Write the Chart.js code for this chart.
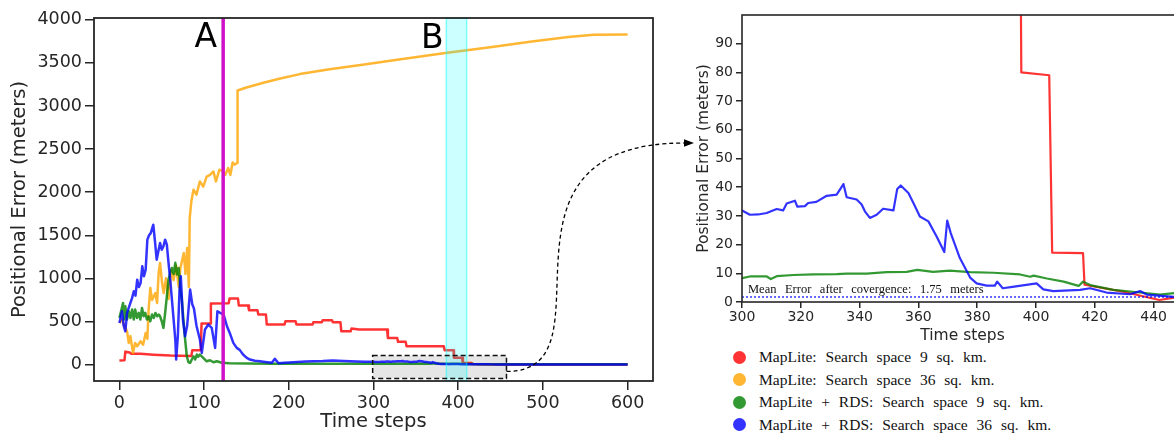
<!DOCTYPE html>
<html>
<head>
<meta charset="utf-8">
<script src="https://cdn.jsdelivr.net/npm/chart.js@4"></script>
<style>
  body { margin: 0; width: 1174px; height: 434px; overflow: hidden; background: #fff; position: relative; }
  canvas { position: absolute; top: 0; }
  #main { left: 0; }
  #zoom { left: 680px; }
  #legend { position: absolute; left: 733px; top: 346px; font: 15.5px "Liberation Serif", serif; color: #111; word-spacing: 5px; }
  .row { height: 22.5px; display: flex; align-items: center; white-space: nowrap; }
  .dot { width: 13px; height: 13px; border-radius: 50%; margin-right: 13px; flex: none; }
</style>
</head>
<body>
<canvas id="main" width="700" height="434"></canvas>
<canvas id="zoom" width="515" height="345"></canvas>
<div id="legend"></div>
<script>
const seriesNames = [
  "MapLite: Search space 9 sq. km.",
  "MapLite: Search space 36 sq. km.",
  "MapLite + RDS: Search space 9 sq. km.",
  "MapLite + RDS: Search space 36 sq. km."
];
const seriesColors = ["rgba(255,0,0,0.8)", "rgba(255,165,0,0.8)", "rgba(0,128,0,0.8)", "rgba(0,0,255,0.8)"];

// MapLite, 9 sq. km.
const redSteps = [0,6,7,12,14,25,40,60,85,86,96,97,107,108,129,130,140,141,152,153,163,164,173,174,195,196,208,209,228,229,239,240,251,252,261,262,273,274,283,316,317,328,329,338,339,383,384,394.5,395,404.5,405.5,416,416.5,430,442,447,460,600];
const redError = [46,50,150,140,125,125,115,105,100,165,165,475,475,707,710,765,765,684,684,630,630,580,580,464,464,502,502,464,464,491,491,514,514,490,490,386,386,417,406,406,309,309,263,263,212,212,166,166,80,79,17.2,17,6,3.5,0.7,1.5,1,1];

// MapLite, 36 sq. km.
const orangeSteps = [0,3,6,9,11,13,16,18.5,21,25,28,31,33,34.5,36.5,38.5,42.5,44.5,46.3,48,50.4,52.3,55,58,61,64,67,70,72,76,78,80,82,83,85,87.5,91,95,99,103,107,111,114,118,121,125,128.5,131,133.7,136,139,139.5,150,170,190,213,250,287,330,385,440,487,530,560,600];
const orangeError = [483,520,450,386,251,330,135,250,212,270,230,367,300,638,889,750,830,715,1063,1179,946,830,1000,760,1100,980,1150,900,1121,1295,1050,1353,900,1700,1900,2029,1971,2125,2064,2180,2200,2240,2125,2260,2250,2203,2280,2200,2345,2320,2338,3180,3215,3270,3320,3370,3430,3478,3540,3614,3685,3748,3800,3826,3830];

// MapLite + RDS, 9 sq. km.
const greenSteps = [0,2,4.3,5.5,7,9,11,13,15,17,18.6,20.8,22.8,24.7,26.7,28.6,30.5,32.5,34.5,36.5,38.5,40.5,42.5,44.5,46.5,48,50,52,54,56,58,60,62,64,66,68,70,72,73.7,75.6,77.6,79.6,81.5,83.5,85.5,87.5,89.4,91.4,93,95,99,103,107,111,115,121,130,150,180,220,260,290,
  300,302.7,308.4,309.8,311.8,317.5,324.3,332.2,335.6,342.4,349.2,356,359.6,365,370.7,377.6,385.5,394.6,398,399.2,403.7,409.4,414.5,416,418.4,426.3,435.4,442.2,447,470,600];
const greenError = [541,620,715,522,676,522,618,541,638,522,638,541,600,522,657,560,600,522,560,502,580,540,599,560,580,560,502,425,599,792,985,1063,1121,1050,1180,1044,1121,870,754,522,290,96,27,20,58,96,58,116,90,116,77,38,50,27,38,20,15,12,10,9,8.5,8.3,
  8.3,8.9,8.9,8.0,9,9.4,9.6,9.7,9.9,9.9,10.4,10.5,11.2,10.5,10.9,10.4,10.2,9.6,8.8,9.2,8.2,7.1,5.6,7.1,5.9,4.2,3.3,2.6,3.1,3,3];

// MapLite + RDS, 36 sq. km.
const blueSteps = [0,3,5,7,9,11,13,15,17,19,21,23,25,27,29,31,33,35,37,40,42,44,46,48,50,52,54,56,58,60,62,64,66,67,69,71,72.5,75,77.5,80,83.5,86,88,91,95,97.3,101,105,109,113,115.7,119,123,127,131,134.5,138.5,142,146,150,154,160,166,172,180,183.5,188,195,201,210,220,229,240,252,265,280,290,
  300,302.7,305.5,308.4,311.8,314,315.2,318,318.8,321.4,322.5,325.3,328.8,332.2,334.5,335.6,339,340.7,341.8,343.5,345.8,348,351.5,352.8,354,356.6,358.3,360.5,363.4,366.2,368.8,369.8,371,374.1,377.6,379.8,383.2,386,386.8,388.7,392,400.2,402.5,405.9,415,418.4,424,432,435.4,437.6,447,470,600];
const blueError = [483,618,450,386,599,657,715,773,850,800,985,900,946,1140,1024,1100,1449,1500,1525,1623,1430,1217,1314,1410,1333,1372,1449,1391,1179,985,754,522,290,58,330,870,1024,520,328,450,870,700,650,450,290,135,406,464,425,193,618,600,580,444,348,251,193,170,116,80,58,45,38,30,20,66,15,22,25,30,35,38,40,46,40,35,33,
  31.9,30.4,30.5,31,32.4,31.9,34.3,35.3,33.2,33.4,34.5,34.9,37,37.4,41.1,36.5,35.7,34,31.6,29.3,30.4,32.5,31.9,39.4,40.6,38,34.5,29.8,28.1,22.8,17.4,28.4,24,15.3,8.5,6.5,5.7,5.7,7.1,4.8,5.3,6.5,4.4,3.8,4.2,4.8,3.3,2.7,3.8,2.6,1.8,1.5,1.5];

const mainXTicks = [0, 100, 200, 300, 400, 500, 600];
const mainYTicks = [0, 500, 1000, 1500, 2000, 2500, 3000, 3500, 4000];
const zoomXTicks = [300, 320, 340, 360, 380, 400, 420, 440];
const zoomYTicks = [0, 10, 20, 30, 40, 50, 60, 70, 80, 90];

const markerA = 122.5;          // time step of event A
const bandB = [386, 410];       // time steps of event B
const zoomWindow = { x0: 299, x1: 457, y0: -162, y1: 104 };
const meanError = 1.75;

const series = [
  { t: redSteps, v: redError },
  { t: orangeSteps, v: orangeError },
  { t: greenSteps, v: greenError },
  { t: blueSteps, v: blueError }
];

const INK = "#262626";
const SANS = "DejaVu Sans";

function makeDatasets(width) {
  return series.map((s, i) => ({
    label: seriesNames[i],
    data: s.t.map((x, k) => ({ x, y: s.v[k] })),
    borderColor: seriesColors[i],
    borderWidth: width,
    borderJoinStyle: "round",
    pointRadius: 0,
    tension: 0,
    fill: false,
    order: 3 - i
  }));
}

function axis(opts) {
  return {
    type: "linear",
    min: opts.min,
    max: opts.max,
    afterBuildTicks: (s) => { s.ticks = opts.ticks.map((v) => ({ value: v })); },
    afterFit: opts.fit,
    grid: { drawOnChartArea: false, drawTicks: true, tickLength: opts.tickLength, color: INK, lineWidth: 1.5 },
    border: { display: false },
    ticks: {
      color: INK, padding: opts.pad, maxRotation: 0,
      font: { family: SANS, size: opts.tickSize },
      callback: (v) => String(v)
    },
    title: {
      display: true, text: opts.title, color: INK,
      font: { family: SANS, size: opts.titleSize },
      padding: opts.titlePad
    }
  };
}

function drawFrame(chart, width) {
  const { ctx, chartArea: a } = chart;
  ctx.save();
  ctx.strokeStyle = INK;
  ctx.lineWidth = width;
  ctx.strokeRect(a.left, a.top, a.right - a.left, a.bottom - a.top);
  ctx.restore();
}

const mainDecor = {
  id: "mainDecor",
  beforeDatasetsDraw(chart) {
    const { ctx, scales: { x, y } } = chart;
    const l = x.getPixelForValue(zoomWindow.x0), r = x.getPixelForValue(zoomWindow.x1);
    const t = y.getPixelForValue(zoomWindow.y1), b = y.getPixelForValue(zoomWindow.y0);
    ctx.save();
    ctx.fillStyle = "rgba(200,200,200,0.45)";
    ctx.fillRect(l, t, r - l, b - t);
    ctx.restore();
  },
  afterDatasetsDraw(chart) {
    const { ctx, chartArea: a, scales: { x, y } } = chart;
    ctx.save();
    // event B band
    const b0 = x.getPixelForValue(bandB[0]), b1 = x.getPixelForValue(bandB[1]);
    ctx.fillStyle = "rgba(0,255,255,0.2)";
    ctx.fillRect(b0, a.top, b1 - b0, a.bottom - a.top);
    ctx.strokeStyle = "rgba(0,255,255,0.45)";
    ctx.lineWidth = 1.5;
    ctx.strokeRect(b0, a.top, b1 - b0, a.bottom - a.top);
    // event A line
    const ax = x.getPixelForValue(markerA);
    ctx.strokeStyle = "#d010c8";
    ctx.lineWidth = 3.5;
    ctx.beginPath();
    ctx.moveTo(ax, a.top);
    ctx.lineTo(ax, a.bottom);
    ctx.stroke();
    // zoom window outline
    const l = x.getPixelForValue(zoomWindow.x0), r = x.getPixelForValue(zoomWindow.x1);
    const t = y.getPixelForValue(zoomWindow.y1), b = y.getPixelForValue(zoomWindow.y0);
    ctx.strokeStyle = "#111";
    ctx.lineWidth = 1.5;
    ctx.setLineDash([5, 3]);
    ctx.strokeRect(l, t, r - l, b - t);
    ctx.setLineDash([]);
    // labels
    ctx.fillStyle = "#000";
    ctx.font = "33px " + SANS;
    ctx.textAlign = "center";
    ctx.textBaseline = "alphabetic";
    ctx.fillText("A", x.getPixelForValue(102), y.getPixelForValue(3687));
    ctx.fillText("B", x.getPixelForValue(369.5), y.getPixelForValue(3670));
    ctx.restore();
  },
  afterDraw(chart) {
    drawFrame(chart, 1.8);
    const { ctx, chartArea: a, scales: { x, y } } = chart;
    const sx = x.getPixelForValue(zoomWindow.x1), sy = y.getPixelForValue(-80);
    const ex = a.right + 41, ey = a.top + 125;
    ctx.save();
    ctx.strokeStyle = "#000";
    ctx.lineWidth = 1.3;
    ctx.setLineDash([4, 3]);
    ctx.beginPath();
    ctx.moveTo(sx, sy);
    ctx.bezierCurveTo(sx + 113, sy, ex - 222, ey, ex - 9, ey);
    ctx.stroke();
    ctx.setLineDash([]);
    ctx.fillStyle = "#000";
    ctx.beginPath();
    ctx.moveTo(ex, ey);
    ctx.lineTo(ex - 10, ey - 3.8);
    ctx.lineTo(ex - 10, ey + 3.8);
    ctx.closePath();
    ctx.fill();
    ctx.restore();
  }
};

const zoomDecor = {
  id: "zoomDecor",
  afterDatasetsDraw(chart) {
    const { ctx, chartArea: a, scales: { y } } = chart;
    const my = y.getPixelForValue(meanError);
    ctx.save();
    ctx.strokeStyle = "rgba(0,0,255,0.85)";
    ctx.lineWidth = 1.4;
    ctx.setLineDash([2, 2]);
    ctx.beginPath();
    ctx.moveTo(a.left, my);
    ctx.lineTo(a.right, my);
    ctx.stroke();
    ctx.setLineDash([]);
    ctx.fillStyle = "#111";
    ctx.font = '12.5px "Liberation Serif"';
    ctx.textBaseline = "alphabetic";
    let cx = a.left + 6;
    const words = ["Mean", "Error", "after", "covergence:", "1.75", "meters"];
    words.forEach((w) => {
      ctx.fillText(w, cx, my - 4);
      cx += ctx.measureText(w).width + 8.5;
    });
    ctx.restore();
  },
  afterDraw(chart) { drawFrame(chart, 1.6); }
};

new Chart(document.getElementById("main"), {
  type: "line",
  data: { datasets: makeDatasets(2.5) },
  options: {
    responsive: false, animation: false, devicePixelRatio: 1,
    layout: { padding: { left: 0, top: 18, right: 47, bottom: 0 } },
    plugins: { legend: { display: false }, tooltip: { enabled: false } },
    scales: {
      x: axis({ min: -30, max: 630, ticks: mainXTicks, fit: (s) => { s.height = 53; }, tickLength: 9, pad: 3, tickSize: 17.5,
        title: "Time steps", titleSize: 19.5, titlePad: { top: 0, bottom: 0 } }),
      y: axis({ min: -191, max: 4021, ticks: mainYTicks, fit: (s) => { s.width = 94; }, tickLength: 9, pad: 3, tickSize: 17.5,
        title: "Positional Error (meters)", titleSize: 19.5, titlePad: { top: 8, bottom: 0 } })
    }
  },
  plugins: [mainDecor]
});

new Chart(document.getElementById("zoom"), {
  type: "line",
  data: { datasets: makeDatasets(2.2) },
  options: {
    responsive: false, animation: false, devicePixelRatio: 1,
    layout: { padding: { left: 0, top: 15, right: 12, bottom: 0 } },
    plugins: { legend: { display: false }, tooltip: { enabled: false } },
    scales: {
      x: axis({ min: 300, max: 450, ticks: zoomXTicks, fit: (s) => { s.height = 43; }, tickLength: 6, pad: 1, tickSize: 14,
        title: "Time steps", titleSize: 15.5, titlePad: { top: 0, bottom: 0 } }),
      y: axis({ min: 0, max: 100, ticks: zoomYTicks, fit: (s) => { s.width = 62; }, tickLength: 6, pad: 3, tickSize: 14,
        title: "Positional Error (meters)", titleSize: 15.5, titlePad: { top: 15, bottom: 0 } })
    }
  },
  plugins: [zoomDecor]
});

const legend = document.getElementById("legend");
seriesNames.forEach((name, i) => {
  const row = document.createElement("div");
  row.className = "row";
  const dot = document.createElement("span");
  dot.className = "dot";
  dot.style.background = seriesColors[i];
  const label = document.createElement("span");
  label.textContent = name;
  row.appendChild(dot);
  row.appendChild(label);
  legend.appendChild(row);
});
</script>
</body>
</html>
